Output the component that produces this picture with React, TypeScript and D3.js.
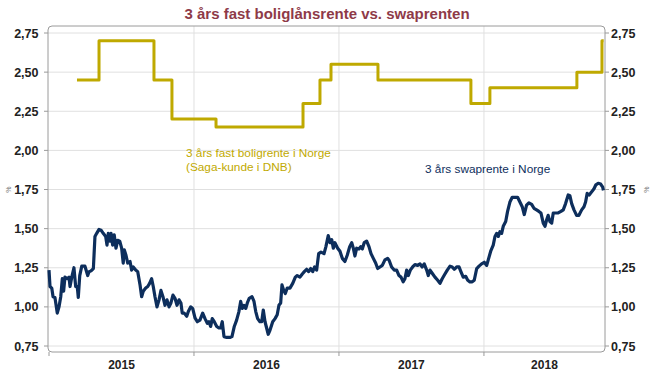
import React from "react";
import * as d3 from "d3";

const title = "3 års fast boliglånsrente vs. swaprenten";
const yTicks = [0.75, 1.0, 1.25, 1.5, 1.75, 2.0, 2.25, 2.5, 2.75];
const yearBounds = [2015, 2016, 2017, 2018];
const yearLabels = ["2015", "2016", "2017", "2018"];
const xDomain: [number, number] = [2015, 2018.828];

// 3-year fixed mortgage rate (step series): [decimal year, rate]
const mortgage: [number, number][] = [
  [2015.193, 2.45],
  [2015.345, 2.7],
  [2015.724, 2.45],
  [2015.848, 2.2],
  [2016.152, 2.15],
  [2016.752, 2.3],
  [2016.869, 2.45],
  [2016.945, 2.55],
  [2017.269, 2.45],
  [2017.91, 2.3],
  [2018.041, 2.4],
  [2018.641, 2.5],
  [2018.814, 2.7],
  [2018.826, 2.7],
];

// 3-year swap rate Norway: [decimal year, rate]
const swap: [number, number][] = [
  [2015.0, 1.235], [2015.007, 1.13], [2015.019, 1.12], [2015.028, 1.065], [2015.041, 1.06],
  [2015.057, 0.96], [2015.069, 1.0], [2015.081, 1.065], [2015.092, 1.18], [2015.101, 1.1],
  [2015.11, 1.19], [2015.126, 1.18], [2015.138, 1.19], [2015.145, 1.13], [2015.157, 1.19],
  [2015.172, 1.25], [2015.184, 1.13], [2015.195, 1.13], [2015.202, 1.06], [2015.212, 1.2],
  [2015.226, 1.26], [2015.248, 1.26], [2015.267, 1.2], [2015.276, 1.225], [2015.29, 1.23],
  [2015.306, 1.245], [2015.317, 1.45], [2015.329, 1.47], [2015.345, 1.495], [2015.359, 1.49],
  [2015.374, 1.47], [2015.391, 1.45], [2015.4, 1.395], [2015.409, 1.47], [2015.421, 1.42],
  [2015.428, 1.47], [2015.439, 1.395], [2015.45, 1.46], [2015.462, 1.375], [2015.474, 1.425],
  [2015.488, 1.42], [2015.501, 1.375], [2015.512, 1.28], [2015.519, 1.365], [2015.531, 1.33],
  [2015.543, 1.28], [2015.559, 1.29], [2015.57, 1.235], [2015.581, 1.255], [2015.598, 1.235],
  [2015.612, 1.225], [2015.628, 1.14], [2015.639, 1.065], [2015.65, 1.1], [2015.667, 1.12],
  [2015.681, 1.13], [2015.694, 1.15], [2015.708, 1.18], [2015.719, 1.13], [2015.731, 1.065],
  [2015.745, 1.0], [2015.759, 1.045], [2015.772, 1.105], [2015.786, 1.065], [2015.8, 1.01],
  [2015.814, 1.045], [2015.828, 1.0], [2015.841, 1.025], [2015.855, 1.075], [2015.869, 1.055],
  [2015.883, 1.01], [2015.897, 1.045], [2015.91, 1.025], [2015.919, 0.96], [2015.933, 0.96],
  [2015.95, 0.94], [2015.961, 0.97], [2015.977, 1.0], [2015.991, 0.99], [2016.007, 0.93],
  [2016.023, 0.905], [2016.041, 0.915], [2016.06, 0.96], [2016.076, 0.925], [2016.092, 0.895],
  [2016.103, 0.905], [2016.115, 0.875], [2016.126, 0.925], [2016.14, 0.905], [2016.157, 0.875],
  [2016.172, 0.865], [2016.184, 0.865], [2016.195, 0.905], [2016.207, 0.81], [2016.226, 0.805],
  [2016.248, 0.805], [2016.262, 0.81], [2016.278, 0.875], [2016.294, 0.915], [2016.31, 0.97],
  [2016.322, 1.035], [2016.333, 0.99], [2016.345, 1.01], [2016.357, 0.99], [2016.368, 1.025],
  [2016.381, 1.055], [2016.4, 1.065], [2016.414, 1.035], [2016.426, 0.97], [2016.439, 0.925],
  [2016.455, 0.905], [2016.467, 0.905], [2016.478, 0.98], [2016.49, 0.905], [2016.501, 0.865],
  [2016.512, 0.825], [2016.524, 0.85], [2016.543, 0.905], [2016.559, 0.925], [2016.574, 0.95],
  [2016.586, 1.01], [2016.598, 1.025], [2016.607, 1.14], [2016.619, 1.105], [2016.63, 1.085],
  [2016.643, 1.12], [2016.662, 1.12], [2016.681, 1.15], [2016.699, 1.19], [2016.712, 1.2],
  [2016.731, 1.19], [2016.747, 1.21], [2016.761, 1.225], [2016.777, 1.24], [2016.791, 1.225],
  [2016.805, 1.245], [2016.819, 1.225], [2016.832, 1.255], [2016.846, 1.235], [2016.86, 1.34],
  [2016.876, 1.35], [2016.897, 1.34], [2016.91, 1.385], [2016.926, 1.455], [2016.938, 1.41],
  [2016.95, 1.43], [2016.961, 1.375], [2016.972, 1.41], [2016.991, 1.375], [2017.007, 1.355],
  [2017.023, 1.31], [2017.041, 1.29], [2017.057, 1.33], [2017.074, 1.385], [2017.088, 1.41],
  [2017.099, 1.375], [2017.11, 1.325], [2017.122, 1.375], [2017.138, 1.37], [2017.15, 1.385],
  [2017.161, 1.37], [2017.174, 1.41], [2017.191, 1.42], [2017.207, 1.385], [2017.221, 1.34],
  [2017.237, 1.31], [2017.253, 1.28], [2017.267, 1.245], [2017.283, 1.255], [2017.299, 1.265],
  [2017.317, 1.3], [2017.336, 1.31], [2017.347, 1.295], [2017.363, 1.255], [2017.381, 1.235],
  [2017.398, 1.235], [2017.414, 1.2], [2017.428, 1.19], [2017.443, 1.16], [2017.455, 1.18],
  [2017.467, 1.235], [2017.478, 1.2], [2017.492, 1.235], [2017.508, 1.255], [2017.524, 1.27],
  [2017.543, 1.265], [2017.559, 1.275], [2017.574, 1.255], [2017.588, 1.275], [2017.605, 1.235],
  [2017.616, 1.2], [2017.628, 1.235], [2017.643, 1.215], [2017.662, 1.19], [2017.681, 1.17],
  [2017.697, 1.15], [2017.712, 1.18], [2017.731, 1.21], [2017.747, 1.235], [2017.766, 1.26],
  [2017.781, 1.255], [2017.795, 1.24], [2017.812, 1.255], [2017.828, 1.255], [2017.841, 1.225],
  [2017.857, 1.19], [2017.874, 1.195], [2017.888, 1.17], [2017.903, 1.16], [2017.919, 1.16],
  [2017.933, 1.17], [2017.95, 1.245], [2017.966, 1.26], [2017.984, 1.275], [2018.002, 1.285],
  [2018.019, 1.265], [2018.034, 1.315], [2018.048, 1.36], [2018.064, 1.395], [2018.076, 1.45],
  [2018.088, 1.47], [2018.099, 1.45], [2018.11, 1.48], [2018.122, 1.47], [2018.133, 1.515],
  [2018.15, 1.545], [2018.163, 1.61], [2018.179, 1.67], [2018.195, 1.7], [2018.214, 1.7],
  [2018.232, 1.7], [2018.248, 1.67], [2018.264, 1.64], [2018.278, 1.59], [2018.294, 1.65],
  [2018.31, 1.665], [2018.329, 1.655], [2018.345, 1.63], [2018.363, 1.62], [2018.379, 1.61],
  [2018.393, 1.6], [2018.409, 1.535], [2018.421, 1.515], [2018.432, 1.555], [2018.443, 1.585],
  [2018.455, 1.545], [2018.467, 1.535], [2018.478, 1.6], [2018.494, 1.6], [2018.512, 1.6],
  [2018.531, 1.61], [2018.547, 1.62], [2018.563, 1.66], [2018.581, 1.715], [2018.593, 1.71],
  [2018.605, 1.66], [2018.621, 1.62], [2018.639, 1.585], [2018.655, 1.585], [2018.674, 1.62],
  [2018.69, 1.64], [2018.701, 1.67], [2018.712, 1.725], [2018.726, 1.715], [2018.743, 1.735],
  [2018.759, 1.755], [2018.772, 1.78], [2018.788, 1.79], [2018.805, 1.785], [2018.819, 1.765],
  [2018.824, 1.745],
];

const mortgageLabel = ["3 års fast boligrente i Norge", "(Saga-kunde i DNB)"];
const swapLabel = "3 års swaprente i Norge";

const W = 654;
const H = 376;
const plot = { left: 48, right: 605, top: 26, bottom: 352 };
const GOLD = "#BFA900";
const NAVY = "#0D2E5C";
const FONT = "'Liberation Sans', Arial, sans-serif";

export default function App() {
  const x = d3.scaleLinear().domain(xDomain).range([49, 604]);
  const y = d3.scaleLinear().domain([0.75, 2.75]).range([346, 33]);
  const fmt = (v: number) => d3.format(".2f")(v).replace(".", ",");

  const stepLine = d3
    .line<[number, number]>()
    .x((d) => x(d[0]))
    .y((d) => y(d[1]))
    .curve(d3.curveStepAfter);
  const swapLine = d3
    .line<[number, number]>()
    .x((d) => x(d[0]))
    .y((d) => y(d[1]));

  const yearMid = yearBounds.map((yr, i) => {
    const a = x(yr);
    const b = i < yearBounds.length - 1 ? x(yearBounds[i + 1]) : plot.right;
    return (a + b) / 2;
  });

  return (
    <svg
      width={W}
      height={H}
      style={{ position: "absolute", left: 0, top: 0, background: "#fff" }}
      fontFamily={FONT}
    >
      <text
        x={W / 2}
        y={19}
        textAnchor="middle"
        fontSize={15}
        fontWeight="bold"
        fill="#8E3A48"
      >
        {title}
      </text>

      {/* gridlines */}
      {yTicks.map((t) => (
        <line
          key={"g" + t}
          x1={plot.left}
          x2={plot.right}
          y1={y(t)}
          y2={y(t)}
          stroke="#e0e0e0"
          strokeWidth={1}
        />
      ))}
      {yearBounds.slice(1).map((yr) => (
        <line
          key={"v" + yr}
          x1={x(yr)}
          x2={x(yr)}
          y1={plot.top}
          y2={plot.bottom}
          stroke="#e0e0e0"
          strokeWidth={1}
        />
      ))}

      {/* frame */}
      <rect
        x={plot.left}
        y={plot.top}
        width={plot.right - plot.left}
        height={plot.bottom - plot.top}
        rx={4}
        fill="none"
        stroke="#9a9a9a"
        strokeWidth={1}
      />

      {/* y ticks & labels */}
      {yTicks.map((t) => (
        <g key={"t" + t}>
          <line x1={plot.left - 4} x2={plot.left} y1={y(t)} y2={y(t)} stroke="#9a9a9a" />
          <line x1={plot.right} x2={plot.right + 4} y1={y(t)} y2={y(t)} stroke="#9a9a9a" />
          <text
            x={38.5}
            y={y(t) + 4.5}
            textAnchor="end"
            fontSize={12.5}
            fontWeight="bold"
            fill="#222"
          >
            {fmt(t)}
          </text>
          <text
            x={611}
            y={y(t) + 4.5}
            textAnchor="start"
            fontSize={12.5}
            fontWeight="bold"
            fill="#222"
          >
            {fmt(t)}
          </text>
        </g>
      ))}
      <text x={9} y={y(1.75) + 2} fontSize={7} fill="#777" textAnchor="middle" transform={`rotate(-90 9 ${y(1.75)})`}>
        %
      </text>
      <text x={647} y={y(1.75) + 2} fontSize={7} fill="#777" textAnchor="middle" transform={`rotate(-90 647 ${y(1.75)})`}>
        %
      </text>

      {/* x ticks & labels */}
      {yearBounds.map((yr) => (
        <line
          key={"xt" + yr}
          x1={x(yr)}
          x2={x(yr)}
          y1={plot.bottom}
          y2={plot.bottom + 4}
          stroke="#9a9a9a"
        />
      ))}
      {yearLabels.map((lab, i) => (
        <text
          key={lab}
          x={yearMid[i]}
          y={368.5}
          textAnchor="middle"
          fontSize={12}
          fontWeight="bold"
          fill="#222"
        >
          {lab}
        </text>
      ))}

      {/* series */}
      <path d={stepLine(mortgage) || ""} fill="none" stroke={GOLD} strokeWidth={3} strokeLinejoin="round" />
      <path d={swapLine(swap) || ""} fill="none" stroke={NAVY} strokeWidth={3.2} strokeLinejoin="round" />

      {/* annotations */}
      <text x={186} y={157} fontSize={11.8} fill={GOLD}>
        <tspan x={186}>{mortgageLabel[0]}</tspan>
        <tspan x={186} dy={13.5}>{mortgageLabel[1]}</tspan>
      </text>
      <text x={425} y={173} fontSize={11.8} fill={NAVY}>
        {swapLabel}
      </text>
    </svg>
  );
}
